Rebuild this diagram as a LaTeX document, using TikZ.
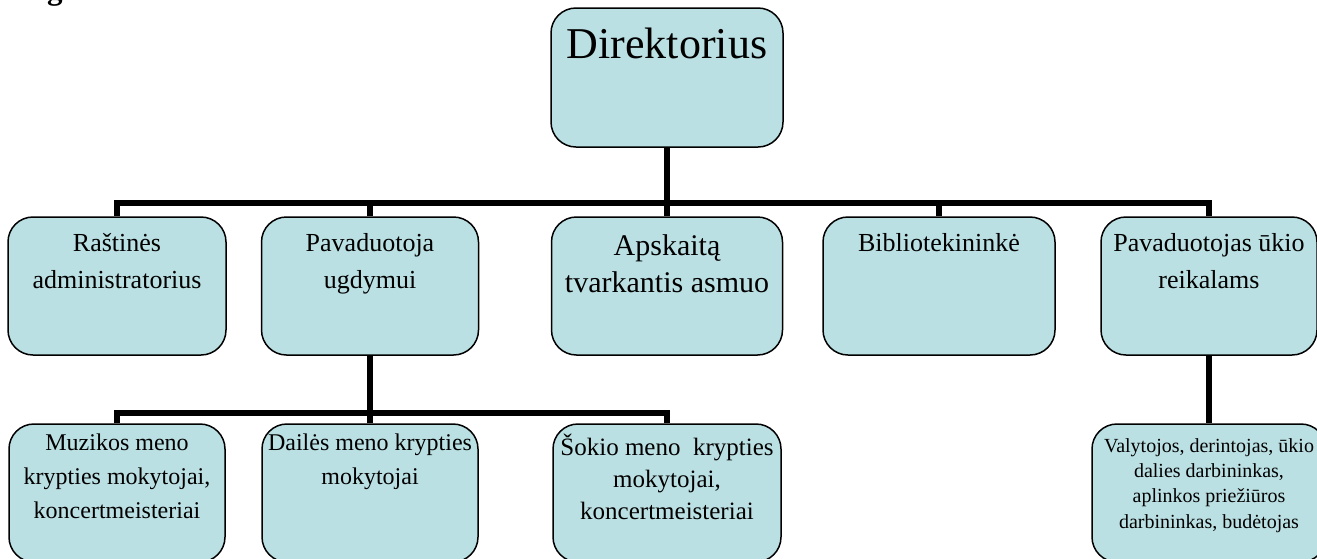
\documentclass[tikz,border=0pt]{standalone}
\usepackage{fontspec}
\setmainfont{Liberation Serif}
\usetikzlibrary{calc}
\usepackage{xcolor}
\definecolor{boxfill}{HTML}{BBE0E3}

\tikzset{
  box/.style={draw=black, line width=1.5pt, fill=boxfill, rounded corners=25pt, inner sep=0pt},
  conn/.style={line width=6pt, black},
  lvlone/.style={align=center, anchor=base, font=\fontsize{26}{37}\selectfont},
  lvltwo/.style={align=center, anchor=base, font=\fontsize{24}{34}\selectfont}
}

\begin{document}
\begin{tikzpicture}[x=1pt,y=-1pt]

      \useasboundingbox (0,0) rectangle (1317,558);

      % Heading (cut off at the top)
      \node[anchor=base west, inner sep=0pt, font=\bfseries\fontsize{31}{36}\selectfont] (head) at (9,-0.5) {Organizacinė struktūra:};

      % Top box
      \node[box, minimum width=232pt, minimum height=139pt] (dir) at (667,77.5) {};
      \node[anchor=base, font=\fontsize{44}{50}\selectfont] (dirtxt) at (667,58) {Direktorius};

      % First level (text nodes sit on the baseline of their last line)
      \node[box, minimum width=218pt, minimum height=138pt] (rast) at (117,286) {};
      \node[box, minimum width=217pt, minimum height=138pt] (ugd) at (370,286) {};
      \node[box, minimum width=231pt, minimum height=138pt] (apsk) at (667,286) {};
      \node[box, minimum width=232pt, minimum height=138pt] (bibl) at (939,286) {};
      \node[box, minimum width=216pt, minimum height=138pt] (ukio) at (1209,286) {};

      \node[lvlone] (rasttxt) at (117,288) {Raštinės\\administratorius};
      \node[lvlone] (ugdtxt) at (370,288) {Pavaduotoja\\ugdymui};
      \node[lvlone, font=\fontsize{30}{37}\selectfont] (apsktxt) at (667,292) {Apskaitą\\tvarkantis asmuo};
      \node[lvlone] (bibltxt) at (939,251) {Bibliotekininkė};
      \node[lvlone] (ukiotxt) at (1209,288) {Pavaduotojas ūkio\\reikalams};

      % Second level
      \node[box, minimum width=216pt, minimum height=138pt] (muz) at (117,493) {};
      \node[box, minimum width=216pt, minimum height=138pt] (dail) at (370,493) {};
      \node[box, minimum width=228pt, minimum height=138pt] (sok) at (667,493) {};
      \node[box, minimum width=234pt, minimum height=138pt] (val) at (1209,493) {};

      \node[lvltwo] (muztxt) at (117,518) {Muzikos meno\\krypties mokytojai,\\koncertmeisteriai};
      \node[lvltwo] (dailtxt) at (370,484) {Dailės meno krypties\\mokytojai};
      \node[lvltwo, font=\fontsize{25}{32}\selectfont] (soktxt) at (667,519) {Šokio meno\ \ krypties\\mokytojai,\\koncertmeisteriai};
      \node[lvltwo, font=\fontsize{20}{25.3}\selectfont] (valtxt) at (1209,528) {Valytojos, derintojas, ūkio\\dalies darbininkas,\\aplinkos priežiūros\\darbininkas, budėtojas};

      % Connectors
      \coordinate (bus) at (667,203);
      \coordinate (bustwo) at (370,413);

      \draw[conn] (dir.south) -- (bus);
      \draw[conn] (rast.north) -- (rast.north |- bus) -- (ukio.north |- bus) -- (ukio.north);
      \foreach \n in {ugd,apsk,bibl}
      {
        \draw[conn] (\n.north) -- (\n.north |- bus);
      }

      \draw[conn] (ugd.south) -- (bustwo);
      \draw[conn] (muz.north) -- (muz.north |- bustwo) -- (sok.north |- bustwo) -- (sok.north);
      \draw[conn] (dail.north) -- (dail.north |- bustwo);

      \draw[conn] (ukio.south) -- (val.north);

  \end{tikzpicture}
\end{document}
